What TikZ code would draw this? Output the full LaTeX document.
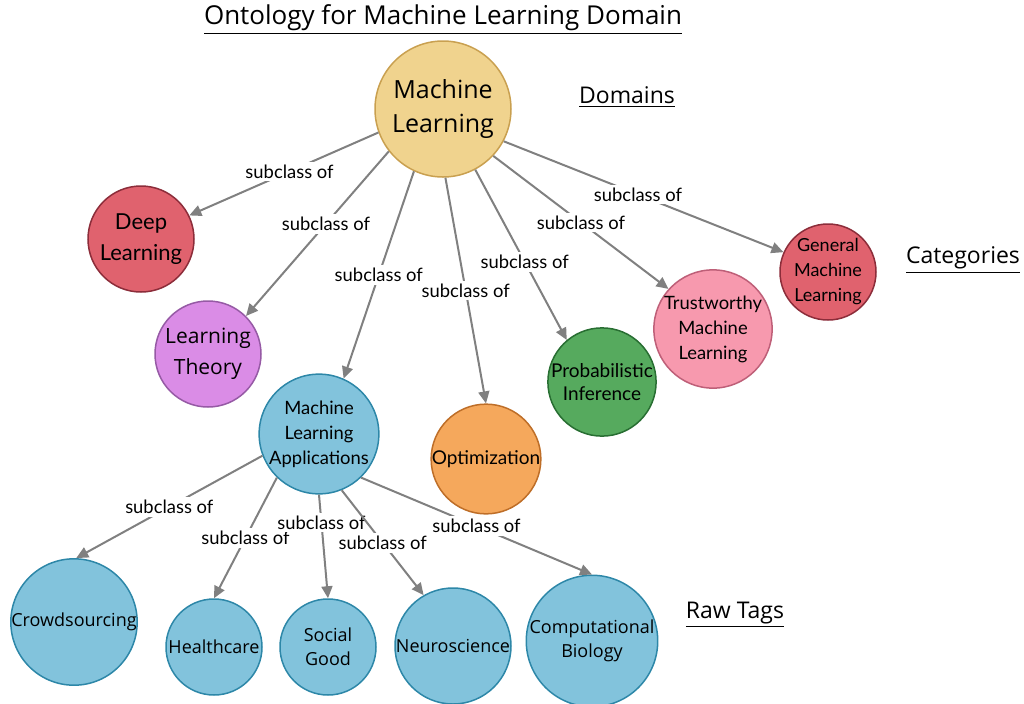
\documentclass[tikz,border=0pt]{standalone}
\usepackage{fontspec}
\setmainfont{Open Sans}
\newfontfamily\latofont{Lato}
\usetikzlibrary{arrows.meta}

% Fill and border colours of the concept levels
\definecolor{mlfill}{RGB}{240,211,142}
\definecolor{mldraw}{RGB}{201,160,80}
\definecolor{deepfill}{RGB}{224,98,110}
\definecolor{deepdraw}{RGB}{140,45,58}
\definecolor{theoryfill}{RGB}{218,140,230}
\definecolor{theorydraw}{RGB}{150,90,165}
\definecolor{appfill}{RGB}{130,195,220}
\definecolor{appdraw}{RGB}{45,135,168}
\definecolor{optfill}{RGB}{245,168,92}
\definecolor{optdraw}{RGB}{190,110,40}
\definecolor{probfill}{RGB}{86,170,94}
\definecolor{probdraw}{RGB}{40,110,50}
\definecolor{trustfill}{RGB}{247,153,174}
\definecolor{trustdraw}{RGB}{190,95,120}
\definecolor{edgegray}{RGB}{128,128,128}

\begin{document}
\begin{tikzpicture}[x=0.5pt,y=-0.5pt,
    concept/.style={circle, draw, line width=0.75pt, inner sep=0pt, align=center},
    edge/.style={draw=edgegray, line width=1pt, -{Triangle[length=6pt,width=5.5pt]}},
    rel/.style={fill=white, inner sep=1.5pt, text=black, font=\latofont\fontsize{9.2}{11}\selectfont},
    heading/.style={font=\fontsize{11.5}{14}\selectfont}]
    \useasboundingbox (0,0) rectangle (1024,703);

    % Title and level headings
    \node[font=\fontsize{13}{15}\selectfont] (title) at (443,20) {\underline{Ontology for Machine Learning Domain}};
    \node[heading] (domains) at (627,97) {\underline{Domains}};
    \node[heading] (categories) at (963,260) {\underline{Categories}};
    \node[heading] (rawtags) at (735,615) {\underline{Raw Tags}};

    % Domain
    \node[concept, fill=mlfill, draw=mldraw, minimum size=68pt, font=\fontsize{12.5}{17}\selectfont] (ml) at (443,109) {Machine\\Learning};

    % Categories
    \node[concept, fill=deepfill, draw=deepdraw, minimum size=53pt, font=\latofont\fontsize{11}{15.5}\selectfont] (deep) at (141,239) {Deep\\Learning};
    \node[concept, fill=theoryfill, draw=theorydraw, minimum size=53pt, font=\fontsize{10.5}{15.5}\selectfont] (theory) at (208,354) {Learning\\Theory};
    \node[concept, fill=appfill, draw=appdraw, minimum size=58pt, font=\latofont\fontsize{9.2}{12.5}\selectfont] (apps) at (319,434) {Machine\\Learning\\Applications};
    \node[concept, fill=optfill, draw=optdraw, minimum size=53pt, font=\latofont\fontsize{9.5}{12}\selectfont] (opt) at (486,459) {Optimization};
    \node[concept, fill=probfill, draw=probdraw, minimum size=54pt, font=\latofont\fontsize{9.5}{11.5}\selectfont] (prob) at (602,382) {Probabilistic\\Inference};
    \node[concept, fill=trustfill, draw=trustdraw, minimum size=58pt, font=\latofont\fontsize{9.2}{12.5}\selectfont] (trust) at (713,329) {Trustworthy\\Machine\\Learning};
    \node[concept, fill=deepfill, draw=deepdraw, minimum size=48pt, font=\latofont\fontsize{9}{12.5}\selectfont] (general) at (828,272) {General\\Machine\\Learning};

    % Raw tags
    \begin{scope}[every node/.append style={concept, fill=appfill, draw=appdraw, font=\fontsize{9}{12}\selectfont}]
        \node[minimum size=63pt] (crowd) at (74,622) {Crowdsourcing};
        \node[minimum size=48pt] (health) at (214,647) {Healthcare};
        \node[minimum size=48pt] (social) at (328,647) {Social\\Good};
        \node[minimum size=58pt] (neuro) at (453,646) {Neuroscience};
        \node[minimum size=63pt] (compbio) at (592,641) {Computational\\Biology};
    \end{scope}

    % Domain -> categories
    \draw[edge] (ml.200) -- node[rel, pos=0.47] {subclass of} (deep.26);
    \draw[edge] (ml.218) -- node[rel, pos=0.44] {subclass of} (theory.45);
    \draw[edge] (ml.245) -- node[rel] {subclass of} (apps.66);
    \draw[edge] (ml.272) -- node[rel] {subclass of} (opt.90);
    \draw[edge] (ml.298) -- node[rel, pos=0.54] {subclass of} (prob.130);
    \draw[edge] (ml.317) -- node[rel] {subclass of} (trust.138);
    \draw[edge] (ml.332) -- node[rel, pos=0.48] {subclass of} (general.156);

    % Applications -> raw tags
    \draw[edge] (apps.201) -- node[rel] {subclass of} (crowd.88);
    \draw[edge] (apps.226) -- node[rel] {subclass of} (health.90);
    \draw[edge] (apps.270) -- node[rel, pos=0.27] {subclass of} (social.90);
    \draw[edge] (apps.292) -- node[rel] {subclass of} (neuro.120);
    \draw[edge] (apps.314) -- node[rel] {subclass of} (compbio.90);
\end{tikzpicture}
\end{document}
